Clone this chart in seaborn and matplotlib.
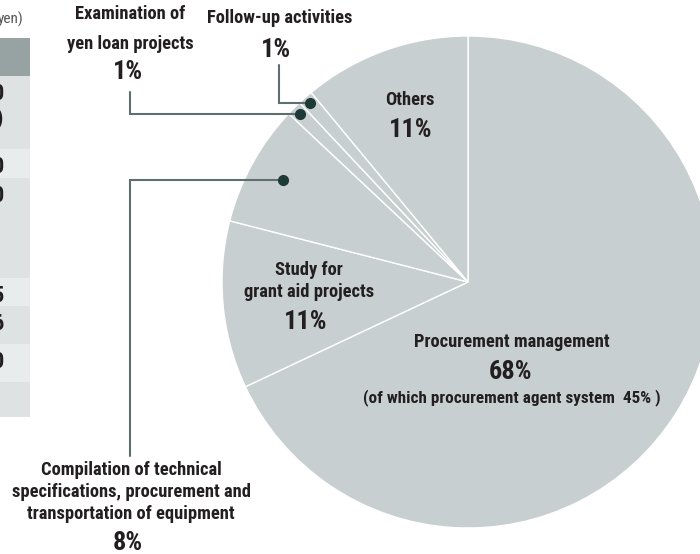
import numpy as np
import matplotlib
matplotlib.use("Agg")
import matplotlib.pyplot as plt
from matplotlib import font_manager
import seaborn as sns

# Datos del grafico
categorias = ["Procurement management", "Study for\ngrant aid projects",
              "Compilation of technical\nspecifications, procurement and\ntransportation of equipment",
              "Examination of\nyen loan projects", "Follow-up activities", "Others"]
porcentajes = [68, 11, 8, 1, 1, 11]
nota_procurement = "(of which procurement agent system  45% )"

# Tabla recortada a la izquierda (solo se ve el borde)
tabla_textos = ["0\n3)", "0", "0", "5", "6", "0", ""]
tabla_filas = [(76, 149), (149, 178), (178, 278), (278, 306), (306, 344), (344, 382), (382, 417)]

sns.set_theme(style="white")

# buscamos una fuente estrecha; si no hay, usamos una normal mas chica
escala = 0.78
fuente = "DejaVu Sans"
for nombre, esc in [("Liberation Sans Narrow", 1.0), ("DejaVu Sans Condensed", 0.86),
                    ("Roboto Condensed", 1.0), ("Roboto", 0.88)]:
    try:
        font_manager.findfont(font_manager.FontProperties(family=nombre), fallback_to_default=False)
        fuente, escala = nombre, esc
        break
    except Exception:
        pass
plt.rcParams['font.family'] = [fuente, 'DejaVu Sans']

GRIS = "#c8cfd0"
TXT = "#231f20"
LINEA = "#5f6e6e"
PUNTO = "#1d3a37"

fig = plt.figure(figsize=(7, 5.54), dpi=100)
ax = fig.add_axes([0, 0, 1, 1])
ax.axis("off")

# con el eje y invertido: startangle=-90 es arriba y counterclock=True gira en sentido horario
cx, cy, r = 468, 282, 246
wedges, _ = ax.pie(porcentajes, colors=[GRIS] * len(porcentajes), startangle=-90,
                   counterclock=True, center=(cx, cy), radius=r,
                   wedgeprops=dict(edgecolor="white", linewidth=1.0))
ax.set_xlim(0, 700)
ax.set_ylim(554, 0)  # coordenadas en pixeles
ax.set_aspect("equal")

def punto(w, frac):
    ang = np.deg2rad((w.theta1 + w.theta2) / 2)
    return cx + r * frac * np.cos(ang), cy + r * frac * np.sin(ang)

lab = dict(fontsize=13.3 * escala, fontweight="bold", color=TXT, ha="center", va="center")
pct = dict(fontsize=19 * escala, fontweight="bold", color=TXT, ha="center", va="center")

# Procurement management
ax.text(512, 342, categorias[0], **lab)
ax.text(510, 372, f"{porcentajes[0]}%", **pct)
ax.text(512, 398, nota_procurement, fontsize=12.3 * escala, fontweight="bold", color=TXT,
        ha="center", va="center")

# Study for grant aid
ax.text(309, 281, categorias[1], linespacing=1.3, **lab)
ax.text(306, 322, f"{porcentajes[1]}%", **pct)

# Others
ax.text(410, 100, categorias[5], **lab)
ax.text(411, 130, f"{porcentajes[5]}%", **pct)

# Compilation (con linea guia)
px, py = punto(wedges[2], 0.86)
ax.plot([px, 130, 130], [py, py, 456], color=LINEA, lw=1.5, solid_joinstyle="miter")
ax.plot(px, py, "o", color=PUNTO, ms=7)
ax.text(131, 492, categorias[2], linespacing=1.3, **lab)
ax.text(128, 543, f"{porcentajes[2]}%", **pct)

# Examination of yen loan projects
px, py = punto(wedges[3], 0.965)
ax.plot([130, 130, px], [92, py, py], color=LINEA, lw=1.5, solid_joinstyle="miter")
ax.plot(px, py, "o", color=PUNTO, ms=7)
ax.text(130, 29, categorias[3], linespacing=1.85, **lab)
ax.text(128, 72, f"{porcentajes[3]}%", **pct)

# Follow-up activities
px, py = punto(wedges[4], 0.97)
ax.plot([279, 279, px], [65, py, py], color=LINEA, lw=1.5, solid_joinstyle="miter")
ax.plot(px, py, "o", color=PUNTO, ms=7)
ax.text(280, 18, categorias[4], **lab)
ax.text(276, 50, f"{porcentajes[4]}%", **pct)

# Tabla cortada del borde izquierdo
ax.text(23, 19, "yen)", fontsize=11 * escala, color="#555555", ha="right", va="center")
ax.add_patch(plt.Rectangle((0, 38), 30, 38, color="#97a2a2", lw=0))
for i, ((y0, y1), t) in enumerate(zip(tabla_filas, tabla_textos)):
    ax.add_patch(plt.Rectangle((0, y0), 30, y1 - y0, color="#dfe2e2" if i % 2 == 0 else "#e9ecec", lw=0))
    if t:
        ax.text(4, y0 + 7, t, fontsize=16 * escala, fontweight="bold", color=TXT,
                ha="right", va="top", linespacing=1.15)

fig.savefig("out.png", dpi=100)
